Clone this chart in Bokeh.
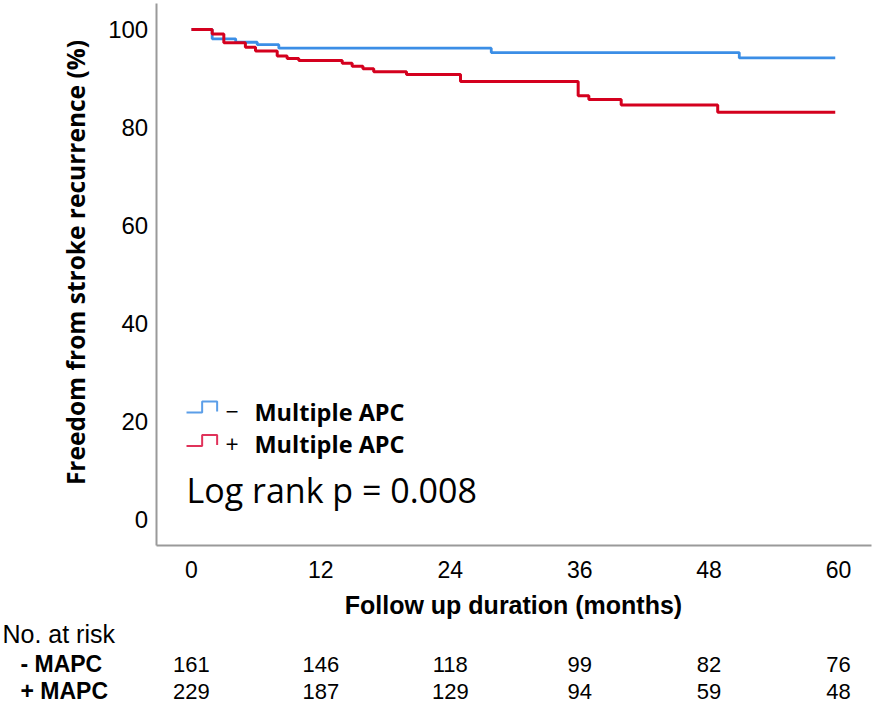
import numpy as np
from bokeh.plotting import figure
from bokeh.models import FixedTicker, Label, LabelSet, ColumnDataSource
from bokeh.embed import file_html
from bokeh.resources import INLINE
from bokeh.core.properties import value

# ---- data ----
blue_times = [0, 1.92, 4.1, 6.1, 8.1, 27.8, 50.8, 59.7]
blue_surv = [100, 98.1, 97.4, 96.9, 96.2, 95.3, 94.2, 94.2]
red_times = [0, 1.92, 3.0, 5.0, 5.94, 7.95, 8.87, 9.95, 13.98, 14.9, 15.9,
             16.9, 19.94, 24.95, 35.86, 36.85, 39.85, 48.8, 59.7]
red_surv = [100, 99.1, 97.3, 96.4, 95.6, 94.6, 94.1, 93.7, 93.1, 92.5, 92.0,
            91.4, 90.8, 89.4, 86.5, 85.7, 84.6, 83.1, 83.1]

x_ticks = [0, 12, 24, 36, 48, 60]
y_ticks = [0, 20, 40, 60, 80, 100]
risk_times = [0, 12, 24, 36, 48, 60]
risk_minus = [161, 146, 118, 99, 82, 76]
risk_plus = [229, 187, 129, 94, 59, 48]
group_names = ["Multiple APC", "Multiple APC"]
group_signs = ["\u2212", "+"]
risk_rows = ["- MAPC", "+ MAPC"]

BLUE = "#3b8ee6"
RED = "#d4001e"
BLUE_ICON = "#5b9ee8"
RED_ICON = "#e0325a"
AXIS = "#9a9a9a"
SANS = "Liberation Sans"
CAL = "Open Sans"

# axes extents (data units)
X_MIN, X_MAX = -3.27, 63.06
Y_MIN, Y_MAX = -5.31, 105.3

p = figure(width=874, height=708, x_range=(-17.71, 63.34), y_range=(-38.57, 105.92),
           output_backend="svg", toolbar_location=None,
           min_border_left=0, min_border_bottom=0, min_border_top=0,
           min_border_right=0)
p.outline_line_color = None
p.xgrid.grid_line_color = None
p.ygrid.grid_line_color = None
p.background_fill_color = "white"

for ax in (p.xaxis[0], p.yaxis[0]):
    ax.axis_line_color = AXIS
    ax.axis_line_width = 2
    ax.major_tick_line_color = None
    ax.minor_tick_line_color = None
    ax.major_tick_out = 0
    ax.major_tick_in = 0
    ax.minor_tick_out = 0
    ax.major_label_text_font = SANS
    ax.major_label_text_color = "black"

p.xaxis.fixed_location = Y_MIN
p.xaxis.bounds = (X_MIN, X_MAX)
p.yaxis.fixed_location = X_MIN
p.yaxis.bounds = (Y_MIN, Y_MAX)
p.xaxis.ticker = FixedTicker(ticks=x_ticks)
p.yaxis.ticker = FixedTicker(ticks=y_ticks)
p.xaxis.major_label_text_font_size = "23px"
p.yaxis.major_label_text_font_size = "24px"
p.xaxis.major_label_standoff = 15
p.yaxis.major_label_standoff = 8

# curves
p.step(blue_times, blue_surv, mode="after", line_color=BLUE, line_width=2.8)
p.step(red_times, red_surv, mode="after", line_color=RED, line_width=3)

# axis titles
p.add_layout(Label(x=-10.76, y=52.45, text="Freedom from stroke recurrence (%)",
                   angle=np.pi / 2, text_align="center", text_baseline="middle",
                   text_font=CAL, text_font_style="bold",
                   text_font_size="24.5px", text_color="black"))
p.add_layout(Label(x=29.86, y=-17.35, text="Follow up duration (months)",
                   text_align="center", text_baseline="alphabetic",
                   text_font=SANS, text_font_style="bold",
                   text_font_size="25px", text_color="black"))

# legend (step icons + texts)
leg_x0 = -0.46
icon_base = [21.84, 15.0]
text_base = [22.04, 15.4]
icon_dx = [0, 1.45, 1.45, 2.84, 2.84]
icon_dy = [0, 0, 2.25, 2.25, 0.2]
for i, col in enumerate([BLUE_ICON, RED_ICON]):
    yb = icon_base[i]
    p.line([leg_x0 + d for d in icon_dx], [yb + d for d in icon_dy],
           line_color=col, line_width=2)
    p.add_layout(Label(x=3.15, y=text_base[i], text=group_signs[i],
                       text_baseline="alphabetic", text_font=CAL,
                       text_font_size="23px", text_color="black"))
    p.add_layout(Label(x=5.84, y=text_base[i], text=group_names[i],
                       text_baseline="alphabetic", text_font=CAL,
                       text_font_style="bold", text_font_size="23.5px",
                       text_color="black"))

p.add_layout(Label(x=-0.46, y=5.92, text="Log rank p = 0.008",
                   text_baseline="alphabetic", text_font=CAL,
                   text_font_size="34px", text_color="black"))

# number at risk table
p.add_layout(Label(x=-17.53, y=-23.27, text="No. at risk", text_baseline="alphabetic",
                   text_font=SANS, text_font_size="25px", text_color="black"))
row_y = [-31.02, -36.53]
row_label_y = [-29.49, -35.0]
for i, name in enumerate(risk_rows):
    p.add_layout(Label(x=-15.86, y=row_label_y[i], text=name, text_baseline="alphabetic",
                       text_font=SANS, text_font_style="bold",
                       text_font_size="23px", text_color="black"))

risk_src = ColumnDataSource(dict(
    x=risk_times + risk_times,
    y=[row_y[0]] * len(risk_times) + [row_y[1]] * len(risk_times),
    t=[str(v) for v in risk_minus] + [str(v) for v in risk_plus]))
p.add_layout(LabelSet(x="x", y="y", text="t", source=risk_src, text_align="center",
                      text_baseline="alphabetic", text_font=value(SANS),
                      text_font_size="22px", text_color="black"))

open("out.html", "w").write(file_html(p, INLINE))
